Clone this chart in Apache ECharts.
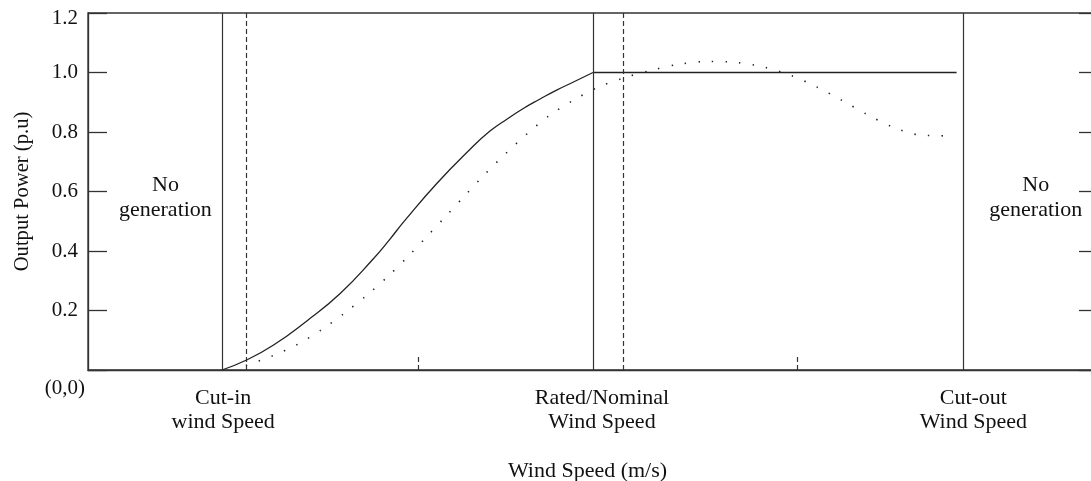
<!DOCTYPE html>
<html>
<head>
<meta charset="utf-8">
<title>Wind turbine power curve</title>
<script src="https://cdn.jsdelivr.net/npm/echarts@6/dist/echarts.min.js"></script>
<style>
  html, body { margin: 0; padding: 0; background: #fff; }
  #chart { width: 1091px; height: 481px; }
</style>
</head>
<body>
<div id="chart"></div>
<script>
// Characteristic wind speeds (m/s)
const cutInSpeed = 4.0;
const ratedSpeed = 15.0;
const cutOutSpeed = 26.0;
const plateauEnd = 25.8;
const shiftedSpeeds = [4.7, 15.9];      // dashed reference lines
const midMarks = [9.82, 21.06];         // short dashed markers on the axis

// Ideal power curve (solid)
const idealSpeed = [3.98, 4.66, 5.50, 6.50, 7.49, 8.47, 8.97, 9.37, 10.36, 11.35, 11.94, 12.44, 12.93, 13.43, 13.92, 14.42, 15.0];
const idealPower = [0, 0.031, 0.083, 0.165, 0.257, 0.373, 0.440, 0.497, 0.627, 0.742, 0.803, 0.843, 0.879, 0.911, 0.941, 0.968, 1.0];

// Measured power curve (dotted)
const actualSpeed = [4.69, 5.47, 6.24, 6.96, 7.64, 8.30, 8.93, 9.52, 10.11, 10.67, 11.25, 11.82, 12.42, 13.04, 13.69, 14.39, 15.14, 15.92, 16.75, 17.57, 18.40, 19.25, 20.08, 20.89, 21.65, 22.40, 23.14, 23.90, 24.70, 25.55];
const actualPower = [0.015, 0.047, 0.087, 0.137, 0.193, 0.253, 0.317, 0.383, 0.454, 0.522, 0.593, 0.662, 0.729, 0.794, 0.854, 0.905, 0.950, 0.982, 1.008, 1.028, 1.037, 1.034, 1.018, 0.990, 0.951, 0.906, 0.859, 0.817, 0.790, 0.787];

// Text
const speedLabels = ['Cut-in\nwind Speed', 'Rated/Nominal\nWind Speed', 'Cut-out\nWind Speed'];
const noGenText = 'No\ngeneration';
const originText = '(0,0)';

const FONT = '"Liberation Serif", "DejaVu Serif", serif';
const INK = '#111';
const LINE = '#333';

const chart = echarts.init(document.getElementById('chart'), null, { renderer: 'canvas' });

const zip = (xs, ys) => xs.map((x, i) => [x, ys[i]]);
const speedKeys = [cutInSpeed, ratedSpeed, cutOutSpeed];
const richKeys = ['a', 'b', 'c'];

function speedLabel(value) {
  const i = speedKeys.findIndex(v => Math.abs(v - value) < 1e-6);
  if (i < 0) return '';
  const k = richKeys[i];
  return speedLabels[i].split('\n').map(s => '{' + k + '|' + s + '}').join('\n');
}

function powerLabel(v) {
  if (v === 0) return '';
  const s = v.toFixed(1);
  // the top label sits a little below its tick
  return v >= 1.2 - 1e-9 ? '{top|' + s + '}' : s;
}

const richBase = { fontFamily: FONT, fontSize: 22, color: INK, lineHeight: 24 };

const option = {
  animation: false,
  backgroundColor: '#fff',
  grid: {
    left: 88, top: 13, right: -7, bottom: 111,
    show: true, borderColor: LINE, borderWidth: 1.3,
    containLabel: false, outerBoundsMode: 'none'
  },
  xAxis: {
    type: 'value', min: 0, max: 30,
    name: 'Wind Speed (m/s)', nameLocation: 'middle', nameGap: 90,
    nameTextStyle: { fontFamily: FONT, fontSize: 22, color: INK, padding: [0, 11, 0, 0] },
    axisLine: { show: true, lineStyle: { color: LINE, width: 1.3 } },
    axisTick: { show: false },
    splitLine: { show: false },
    axisLabel: {
      show: true, margin: 16,
      customValues: speedKeys,
      formatter: speedLabel,
      rich: {
        a: Object.assign({}, richBase, { padding: [0, 0, 0, 1] }),
        b: Object.assign({}, richBase, { padding: [0, 0, 0, 18] }),
        c: Object.assign({}, richBase, { padding: [0, 0, 0, 20] })
      }
    }
  },
  yAxis: [{
    type: 'value', min: 0, max: 1.2, interval: 0.2, position: 'left',
    name: 'Output Power (p.u)', nameLocation: 'middle', nameGap: 55,
    nameTextStyle: { fontFamily: FONT, fontSize: 20.6, color: INK },
    axisLine: { show: true, lineStyle: { color: LINE, width: 1.3 } },
    axisTick: { show: true, inside: true, length: 19, lineStyle: { color: LINE, width: 1.3 } },
    splitLine: { show: false },
    axisLabel: {
      margin: 10, fontFamily: FONT, fontSize: 21, color: INK,
      formatter: powerLabel,
      rich: { top: { fontFamily: FONT, fontSize: 21, color: INK, padding: [10, 0, 0, 0] } }
    }
  }, {
    type: 'value', min: 0, max: 1.2, interval: 0.2, position: 'right',
    axisLine: { show: true, lineStyle: { color: LINE, width: 1.3 } },
    axisTick: { show: true, inside: true, length: 19, lineStyle: { color: LINE, width: 1.3 } },
    splitLine: { show: false },
    axisLabel: { show: false }
  }],
  series: [
    {
      name: 'Ideal', type: 'line', smooth: 0.5, symbol: 'none',
      data: zip(idealSpeed, idealPower),
      lineStyle: { color: '#222', width: 1.3 },
      markLine: {
        silent: true, symbol: 'none', label: { show: false },
        lineStyle: { color: LINE, width: 1.2, type: 'solid' },
        data: [
          { xAxis: cutInSpeed },
          { xAxis: ratedSpeed },
          { xAxis: cutOutSpeed },
          { xAxis: shiftedSpeeds[0], lineStyle: { type: [5, 3] } },
          { xAxis: shiftedSpeeds[1], lineStyle: { type: [5, 3] } },
          [{ coord: [midMarks[0], 0] }, { coord: [midMarks[0], 0.05], lineStyle: { type: [5, 3] } }],
          [{ coord: [midMarks[1], 0] }, { coord: [midMarks[1], 0.05], lineStyle: { type: [5, 3] } }]
        ]
      }
    },
    {
      name: 'Rated', type: 'line', symbol: 'none',
      data: [[ratedSpeed, 1.0], [plateauEnd, 1.0]],
      lineStyle: { color: '#222', width: 1.3 }
    },
    {
      name: 'Actual', type: 'line', smooth: 0.3, symbol: 'none',
      data: zip(actualSpeed, actualPower),
      lineStyle: { color: '#222', width: 1.6, type: [1.4, 12.2] }
    }
  ]
};

chart.setOption(option);

// Region annotations and origin label
const leftNoGen = chart.convertToPixel({ gridIndex: 0 }, [2.3, 0.58]);
const rightNoGen = chart.convertToPixel({ gridIndex: 0 }, [28.15, 0.58]);
const origin = chart.convertToPixel({ gridIndex: 0 }, [0, 0]);
const textStyle = { fontFamily: FONT, fontSize: 22, fill: INK, align: 'center', verticalAlign: 'middle', lineHeight: 25 };
chart.setOption({
  graphic: [
    { type: 'text', x: leftNoGen[0], y: leftNoGen[1], style: Object.assign({ text: noGenText }, textStyle) },
    { type: 'text', x: rightNoGen[0], y: rightNoGen[1], style: Object.assign({ text: noGenText }, textStyle) },
    { type: 'text', x: origin[0] - 3, y: origin[1] + 18,
      style: { text: originText, fontFamily: FONT, fontSize: 21, fill: INK, align: 'right', verticalAlign: 'middle' } }
  ]
});
</script>
</body>
</html>
